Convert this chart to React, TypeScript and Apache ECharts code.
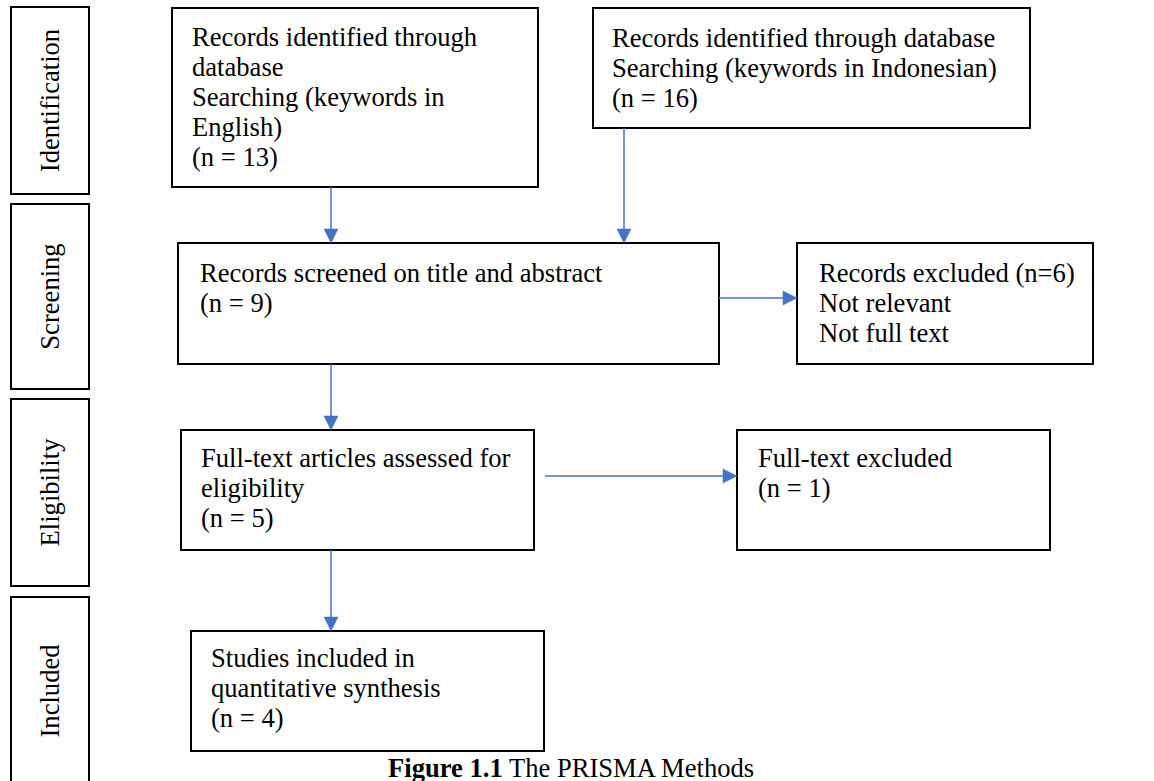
import React, { useEffect, useRef } from "react";
import * as echarts from "echarts";

// ---- Data ----
const stageLabels = ["Identification", "Screening", "Eligibility", "Included"];
const boxTexts: string[][] = [
  ["Records identified through", "database", "Searching (keywords in", "English)"],
  ["Records identified through database", "Searching (keywords in Indonesian)"],
  ["Records screened on title and abstract"],
  ["Records excluded (n=6)", "Not relevant", "Not full text"],
  ["Full-text articles assessed for", "eligibility"],
  ["Full-text excluded"],
  ["Studies included in", "quantitative synthesis"],
];
const boxCounts: (number | null)[] = [13, 16, 9, null, 5, 1, 4];
const captionBold = "Figure 1.1";
const captionRest = " The PRISMA Methods";

// ---- Layout (positions / sizes) ----
const stageBoxes = [
  { x: 11, y: 7, w: 78, h: 187 },
  { x: 11, y: 204, w: 78, h: 185 },
  { x: 11, y: 399, w: 78, h: 187 },
  { x: 11, y: 597, w: 78, h: 210 },
];
const boxes = [
  { x: 172, y: 8, w: 366, h: 179, tx: 192, ty: 22 },
  { x: 593, y: 8, w: 437, h: 120, tx: 612, ty: 23 },
  { x: 178, y: 243, w: 541, h: 121, tx: 200, ty: 258 },
  { x: 797, y: 243, w: 296, h: 121, tx: 819, ty: 258 },
  { x: 181, y: 430, w: 353, h: 120, tx: 201, ty: 443 },
  { x: 737, y: 430, w: 313, h: 120, tx: 758, ty: 443 },
  { x: 191, y: 631, w: 353, h: 120, tx: 211, ty: 643 },
];
// arrows: [x1, y1, x2, y2] (tip at x2,y2)
const arrows = [
  [331, 187, 331, 243],
  [624, 128, 624, 243],
  [719, 298, 797, 298],
  [331, 364, 331, 430],
  [545, 476, 737, 476],
  [331, 550, 331, 631],
];

const FONT = "'Liberation Serif', 'Times New Roman', serif";
const FS = 26.6;
const LH = 30;
const BLUE = "#4472C4";

export default function App() {
  const ref = useRef<HTMLDivElement>(null);
  useEffect(() => {
    document.body.style.margin = "0";
    document.body.style.overflow = "hidden";
    const chart = echarts.init(ref.current!, null, { renderer: "svg" });
    const elements: any[] = [];

    stageBoxes.forEach((b, i) => {
      elements.push({
        type: "rect",
        shape: { x: b.x, y: b.y, width: b.w, height: b.h },
        style: { fill: "#fff", stroke: "#000", lineWidth: 2 },
      });
      const cy = i === 3 ? 691 : b.y + b.h / 2;
      elements.push({
        type: "text",
        x: b.x + b.w / 2,
        y: cy,
        rotation: Math.PI / 2,
        style: {
          text: stageLabels[i],
          font: `${FS}px ${FONT}`,
          fill: "#000",
          align: "center",
          verticalAlign: "middle",
        },
      });
    });

    boxes.forEach((b, i) => {
      elements.push({
        type: "rect",
        shape: { x: b.x, y: b.y, width: b.w, height: b.h },
        style: { fill: "#fff", stroke: "#000", lineWidth: 2 },
      });
      const lines = [...boxTexts[i]];
      if (boxCounts[i] !== null) lines.push(`(n = ${boxCounts[i]})`);
      elements.push({
        type: "text",
        x: b.tx,
        y: b.ty,
        style: {
          text: lines.join("\n"),
          font: `${FS}px ${FONT}`,
          lineHeight: LH,
          fill: "#000",
          align: "left",
          verticalAlign: "top",
        },
      });
    });

    const AH = 14;
    const AW = 7;
    arrows.forEach(([x1, y1, x2, y2]) => {
      const vertical = x1 === x2;
      const bx = vertical ? x2 : x2 - AH;
      const by = vertical ? y2 - AH : y2;
      elements.push({
        type: "line",
        shape: { x1, y1, x2: bx, y2: by },
        style: { stroke: BLUE, lineWidth: 1.5 },
      });
      const pts = vertical
        ? [[x2 - AW, by], [x2 + AW, by], [x2, y2]]
        : [[bx, y2 - AW], [bx, y2 + AW], [x2, y2]];
      elements.push({
        type: "polygon",
        shape: { points: pts },
        style: { fill: BLUE, stroke: BLUE, lineWidth: 0.5 },
      });
    });

    elements.push({
      type: "text",
      x: 388,
      y: 781,
      style: {
        text: `{b|${captionBold}}${captionRest}`,
        font: `${FS}px ${FONT}`,
        fill: "#000",
        align: "left",
        verticalAlign: "bottom",
        rich: {
          b: { font: `bold ${FS}px ${FONT}`, fill: "#000" },
        },
      },
    });

    chart.setOption({
      animation: false,
      backgroundColor: "#fff",
      graphic: { elements },
    });
    return () => chart.dispose();
  }, []);
  return (
    <div
      ref={ref}
      style={{ position: "absolute", left: 0, top: 0, width: 1154, height: 781 }}
    />
  );
}
